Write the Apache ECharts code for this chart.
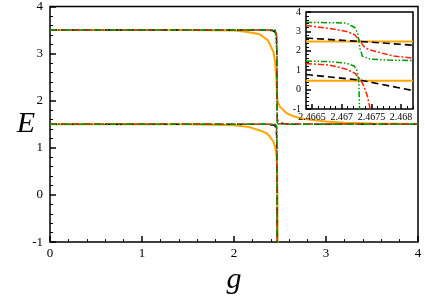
<!DOCTYPE html>
<html><head><meta charset="utf-8">
<script src="https://cdn.jsdelivr.net/npm/echarts@6/dist/echarts.min.js"></script>
<style>html,body{margin:0;padding:0;background:#fff}#c{width:425px;height:300px}</style>
</head><body><div id="c"></div>
<script>
// ---- Main panel data: [g, E] ----
const orangeUpper = [[0,3.5],[1.5,3.5],[2.0,3.49],[2.15,3.46],[2.28,3.41],[2.37,3.28],[2.43,3.03],[2.445,2.85],[2.46,2.5],[2.468,2.1],[2.475,1.98],[2.5,1.87],[2.57,1.74],[2.65,1.67],[2.72,1.63],[2.85,1.59],[3.0,1.56],[3.2,1.535],[3.5,1.515],[4,1.505]];
const orangeLower = [[0,1.5],[1.5,1.5],[2.0,1.48],[2.17,1.44],[2.28,1.37],[2.355,1.31],[2.39,1.24],[2.43,1.13],[2.45,1.0],[2.462,0.84],[2.468,0.6],[2.472,0.0],[2.476,-1.5]];
const blackUpper = [[0,3.5],[2.3,3.5],[2.42,3.49],[2.45,3.45],[2.462,3.35],[2.466,3.0],[2.468,2.0],[2.47,1.62],[2.48,1.55],[2.52,1.52],[2.6,1.5],[4,1.5]];
const blackLower = [[0,1.5],[2.35,1.5],[2.44,1.48],[2.458,1.42],[2.465,1.2],[2.468,0.0],[2.469,-2]];
const redUpper = [[0,3.5],[2.44,3.5],[2.462,3.47],[2.467,3.0],[2.468,2.0],[2.47,1.56],[2.49,1.51],[4,1.5]];
const redLower = [[0,1.5],[2.44,1.5],[2.462,1.46],[2.467,1.0],[2.469,-2]];
const greenUpper = [[0,3.5],[2.45,3.5],[2.465,3.46],[2.467,3.0],[2.468,2.0],[2.469,1.55],[2.48,1.5],[4,1.5]];
const greenLower = [[0,1.5],[2.45,1.5],[2.465,1.45],[2.467,1.0],[2.468,-2]];

// ---- Inset data: [g, E] ----
const insOrangeUpper = [[2.4664,2.48],[2.4682,2.48]];
const insOrangeLower = [[2.4664,0.46],[2.4682,0.46]];
const insBlackUpper = [[2.4664,2.66],[2.46731,2.48],[2.4682,2.29]];
const insBlackLower = [[2.4664,0.78],[2.46731,0.49],[2.4682,-0.05]];
const insRedUpper = [[2.4664,3.3],[2.46679,3.15],[2.46708,3.0],[2.46722,2.83],[2.46731,2.5],[2.46737,2.24],[2.46745,2.07],[2.46765,1.9],[2.46788,1.73],[2.4682,1.62]];
const insRedLower = [[2.4664,1.34],[2.46679,1.27],[2.46708,1.05],[2.46722,0.85],[2.46731,0.54],[2.46737,0.2],[2.46743,-0.3],[2.46748,-1.0],[2.4675,-1.5]];
const insGreenUpper = [[2.4664,3.47],[2.46708,3.43],[2.46722,3.2],[2.46727,2.9],[2.46729,2.5],[2.46731,2.1],[2.46735,1.72],[2.46748,1.57],[2.4678,1.52],[2.4682,1.5]];
const insGreenLower = [[2.4664,1.47],[2.46679,1.44],[2.46708,1.36],[2.46721,1.22],[2.46726,0.97],[2.46729,0.37],[2.4673,-1.0],[2.46731,-1.5]];

// ---- axis ticks ----
const mainXTicks = [0,1,2,3,4];
const mainYTicks = [-1,0,1,2,3,4];
const insXLabels = [2.4665,2.467,2.4675,2.468];
const insXMinor = [2.4664,2.4666,2.4667,2.4668,2.4669,2.4671,2.4672,2.4673,2.4674,2.4676,2.4677,2.4678,2.4679,2.4681,2.4682];

const FONT = 'Liberation Serif';
const C_OR = '#FFA500', C_BK = '#000000', C_RD = '#FF2200', C_GR = '#009A00';
const DASH_BK = [7,4], DASH_RD = [6,2,2,2], DASH_GR = [6,2,1.5,2,1.5,2];

function ln(data, color, type, width, xi, yi, z) {
  return {type:'line', data, xAxisIndex:xi, yAxisIndex:yi, showSymbol:false, symbol:'none', animation:false, silent:true, z:z,
    lineStyle:{color, type, width}, clip:true};
}

const chart = echarts.init(document.getElementById('c'));
chart.setOption({
  animation:false,
  backgroundColor:'#fff',
  textStyle:{fontFamily:FONT, color:'#000'},
  grid:[
    {left:50, top:5, width:368, height:245, show:true, borderColor:'#000', borderWidth:1.5},
    {left:306, top:12, width:107, height:97, show:true, borderColor:'#000', borderWidth:1.5, backgroundColor:'#fff', z:5}
  ],
  xAxis:[
    {type:'value', gridIndex:0, min:mainXTicks[0], max:mainXTicks[mainXTicks.length-1], interval:1, z:10,
     axisLine:{show:false, onZero:false},
     axisTick:{show:true, inside:true, length:6, lineStyle:{color:'#000', width:1.5}},
     minorTick:{show:true, splitNumber:5, length:3, lineStyle:{color:'#000', width:1}},
     splitLine:{show:false},
     axisLabel:{fontSize:13, fontFamily:FONT, color:'#000', margin:5},
     name:'g', nameLocation:'middle', nameGap:4,
     nameTextStyle:{fontSize:30, fontStyle:'italic', fontFamily:FONT, color:'#000', verticalAlign:'top'}},
    {type:'value', gridIndex:1, min:2.4664, max:2.4682, z:10,
     axisLine:{show:false, onZero:false},
     axisTick:{show:true, inside:true, length:5, customValues:insXLabels, lineStyle:{color:'#000', width:1.5}},
     splitLine:{show:false},
     axisLabel:{fontSize:10, fontFamily:FONT, color:'#000', margin:3, customValues:insXLabels,
       formatter:function(v){ return String(Math.round(v*10000)/10000); }}},
    {type:'value', gridIndex:1, min:2.4664, max:2.4682, position:'bottom', z:10,
     axisLine:{show:false, onZero:false}, axisLabel:{show:false}, splitLine:{show:false},
     axisTick:{show:true, inside:true, length:3, customValues:insXMinor, lineStyle:{color:'#000', width:1}}}
  ],
  yAxis:[
    {type:'value', gridIndex:0, min:mainYTicks[0], max:mainYTicks[mainYTicks.length-1], interval:1, z:10,
     axisLine:{show:false, onZero:false},
     axisTick:{show:true, inside:true, length:6, lineStyle:{color:'#000', width:1.5}},
     minorTick:{show:true, splitNumber:5, length:3, lineStyle:{color:'#000', width:1}},
     splitLine:{show:false},
     axisLabel:{fontSize:13, fontFamily:FONT, color:'#000', margin:7},
     name:'E', nameLocation:'middle', nameGap:15, nameRotate:0, nameMoveOverlap:false,
     nameTextStyle:{fontSize:30, fontStyle:'italic', fontFamily:FONT, color:'#000'}},
    {type:'value', gridIndex:1, min:-1, max:4, interval:1, z:10,
     axisLine:{show:false, onZero:false},
     axisTick:{show:true, inside:true, length:5, lineStyle:{color:'#000', width:1.5}},
     minorTick:{show:true, splitNumber:5, length:3, lineStyle:{color:'#000', width:1}},
     splitLine:{show:false},
     axisLabel:{fontSize:10, fontFamily:FONT, color:'#000', margin:5}}
  ],
  series:[
    ln(orangeUpper, C_OR, 'solid', 2, 0, 0, 2),
    ln(orangeLower, C_OR, 'solid', 2, 0, 0, 2),
    ln(blackUpper, C_BK, DASH_BK, 1.5, 0, 0, 3),
    ln(blackLower, C_BK, DASH_BK, 1.5, 0, 0, 3),
    ln(redUpper, C_RD, DASH_RD, 1.5, 0, 0, 4),
    ln(redLower, C_RD, DASH_RD, 1.5, 0, 0, 4),
    ln(greenUpper, C_GR, DASH_GR, 1.5, 0, 0, 5),
    ln(greenLower, C_GR, DASH_GR, 1.5, 0, 0, 5),
    ln(insOrangeUpper, C_OR, 'solid', 2, 1, 1, 17),
    ln(insOrangeLower, C_OR, 'solid', 2, 1, 1, 17),
    ln(insBlackUpper, C_BK, DASH_BK, 1.6, 1, 1, 18),
    ln(insBlackLower, C_BK, DASH_BK, 1.6, 1, 1, 18),
    ln(insRedUpper, C_RD, DASH_RD, 1.5, 1, 1, 19),
    ln(insRedLower, C_RD, DASH_RD, 1.5, 1, 1, 19),
    ln(insGreenUpper, C_GR, DASH_GR, 1.5, 1, 1, 20),
    ln(insGreenLower, C_GR, DASH_GR, 1.5, 1, 1, 20)
  ]
});
</script>
</body></html>
